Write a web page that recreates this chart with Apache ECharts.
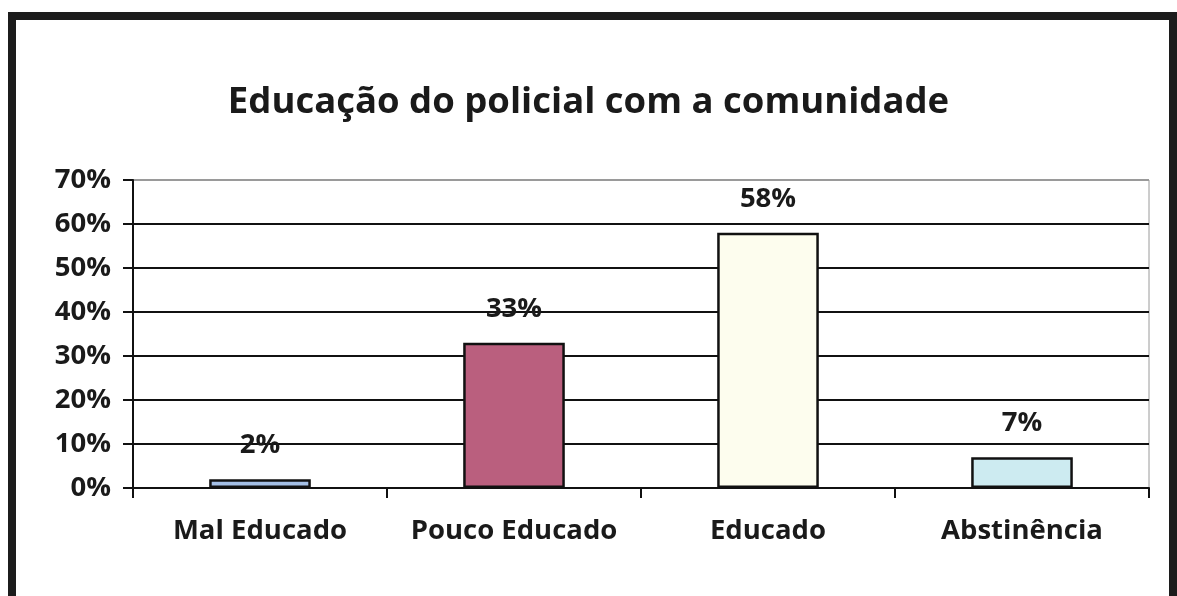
<!DOCTYPE html>
<html>
<head>
<meta charset="utf-8">
<script src="https://cdn.jsdelivr.net/npm/echarts@6/dist/echarts.min.js"></script>
<style>
html,body{margin:0;padding:0;background:#fff;}
#chart{width:1177px;height:596px;}
</style>
</head>
<body>
<div id="chart"></div>
<script>
var titleText = 'Educação do policial com a comunidade';
var categories = ['Mal Educado', 'Pouco Educado', 'Educado', 'Abstinência'];
var values = [2, 33, 58, 7];
var barColors = ['#A4BFE6', '#BA5F7E', '#FDFDEE', '#CDEBF1'];
var yTicks = [0, 10, 20, 30, 40, 50, 60, 70];

var FONT = '"Open Sans", sans-serif';
var chart = echarts.init(document.getElementById('chart'), null, {renderer: 'canvas'});

var splitColors = yTicks.map(function (t, i) { return i === yTicks.length - 1 ? '#9a9a9a' : '#111'; });

chart.setOption({
  backgroundColor: '#ffffff',
  animation: false,
  title: {
    text: titleText,
    left: 'center',
    top: 79,
    textStyle: {fontFamily: FONT, fontWeight: 'bold', fontSize: 36.5, color: '#1a1a1a'}
  },
  grid: {
    left: 133, right: 28, top: 180, bottom: 108,
    show: true, borderColor: '#9a9a9a', borderWidth: 1, backgroundColor: 'transparent'
  },
  xAxis: {
    type: 'category',
    data: categories,
    axisLine: {lineStyle: {color: '#111', width: 2}},
    axisTick: {show: true, length: 10, lineStyle: {color: '#111', width: 2}},
    axisLabel: {fontFamily: FONT, fontWeight: 'bold', fontSize: 27.5, color: '#1a1a1a', margin: 29, interval: 0}
  },
  yAxis: {
    type: 'value',
    min: yTicks[0],
    max: yTicks[yTicks.length - 1],
    interval: 10,
    axisLine: {show: true, lineStyle: {color: '#111', width: 2}},
    axisTick: {show: true, length: 10, lineStyle: {color: '#111', width: 2}},
    axisLabel: {fontFamily: FONT, fontWeight: 'bold', fontSize: 27.5, color: '#1a1a1a', margin: 22,
      formatter: function (v) { return v + '%'; }},
    splitLine: {show: true, lineStyle: {color: splitColors, width: 2}}
  },
  series: [{
    type: 'bar',
    data: values.map(function (v, i) {
      return {value: v, itemStyle: {color: barColors[i]}};
    }),
    barWidth: '40%',
    itemStyle: {borderColor: '#111', borderWidth: 2.5},
    label: {
      show: true, position: 'top', distance: 20,
      fontFamily: FONT, fontWeight: 'bold', fontSize: 27.5, color: '#1a1a1a',
      formatter: function (p) { return p.value + '%'; }
    }
  }],
  graphic: [{
    type: 'rect',
    shape: {x: 12, y: 16, width: 1161, height: 640},
    style: {fill: 'none', stroke: '#1c1c1c', lineWidth: 8},
    silent: true
  }]
});
</script>
</body>
</html>
